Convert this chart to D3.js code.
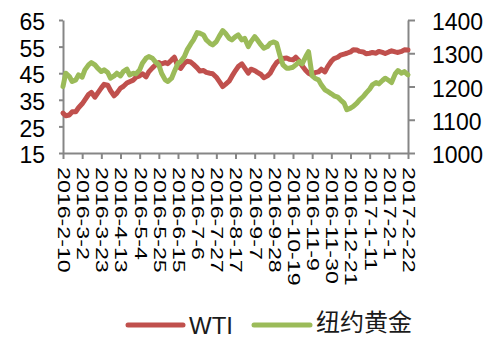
<!DOCTYPE html>
<html>
<head>
<meta charset="utf-8">
<script src="https://cdn.jsdelivr.net/npm/d3@7"></script>
<style>
  html, body { margin: 0; padding: 0; background: #fff; }
  svg { display: block; }
  text { font-family: Arial, "Liberation Sans", sans-serif; }
</style>
</head>
<body>
<svg id="chart" width="498" height="338"></svg>
<script>
// Closes sampled twice a week (day 0 and day 3 of each week), 2016-02-10 through 2017-02-22
const startDate = "2016-02-10";
const endDate = "2017-02-22";

// WTI crude, USD/bbl (left axis)
const wti = [
  30.0, 29.0, 29.3, 30.5, 30.5, 32.0, 33.5, 35.0, 37.0, 37.8,
  36.0, 37.5, 39.5, 40.8, 40.5, 38.5, 36.5, 37.5, 39.4, 40.0,
  41.3, 41.8, 42.4, 43.5, 44.0, 44.8, 43.6, 45.5, 47.0, 48.0,
  49.0, 48.5, 49.0, 48.6, 50.0, 51.0, 47.5, 46.8, 48.8, 49.5,
  49.2, 48.3, 47.0, 45.8, 46.0, 45.3, 45.0, 44.8, 43.5, 42.0,
  40.0, 40.8, 42.0, 43.8, 46.0, 47.5, 48.5, 47.0, 45.0, 46.5,
  46.0, 45.3, 44.5, 43.3, 44.0, 45.0, 47.5, 49.0, 50.0, 50.5,
  50.7, 50.2, 50.0, 51.0, 49.5, 47.8, 46.0, 45.0, 44.3, 45.2,
  45.5, 46.5, 45.5, 47.5, 49.5, 50.5, 51.0, 51.8, 52.2, 52.5,
  53.0, 53.8, 53.7, 53.2, 53.0, 52.3, 52.5, 52.8, 52.5, 53.2,
  52.8, 52.4, 53.0, 53.4, 53.0, 52.8, 53.2, 53.8, 53.7
];

// COMEX gold, USD/oz (right axis)
const gold = [
  1200, 1240, 1230, 1215, 1220, 1235, 1228, 1250, 1265, 1272,
  1265, 1255, 1245, 1250, 1242, 1225, 1232, 1240, 1232, 1245,
  1252, 1235, 1240, 1238, 1250, 1270, 1285, 1290, 1285, 1275,
  1265, 1240, 1220, 1215, 1225, 1245, 1270, 1275, 1290, 1310,
  1328, 1340, 1362, 1360, 1355, 1340, 1330, 1325, 1335, 1350,
  1368, 1360, 1345, 1340, 1350, 1355, 1340, 1345, 1320, 1335,
  1350, 1340, 1325, 1315, 1320, 1330, 1334, 1330, 1290, 1265,
  1255, 1255, 1258, 1265, 1275, 1268, 1290, 1305, 1232, 1225,
  1220, 1205, 1190, 1185, 1178, 1172, 1168, 1160, 1150, 1130,
  1135, 1140, 1150, 1160, 1170, 1180, 1192, 1205, 1212, 1208,
  1218, 1225, 1218, 1212, 1238, 1248, 1240, 1245, 1235
];

const leftTicks = [15, 25, 35, 45, 55, 65];
const rightTicks = [1000, 1100, 1200, 1300, 1400];
const dateLabels = [
  "2016-2-10", "2016-3-2", "2016-3-23", "2016-4-13", "2016-5-4",
  "2016-5-25", "2016-6-15", "2016-7-6", "2016-7-27", "2016-8-17",
  "2016-9-7", "2016-9-28", "2016-10-19", "2016-11-9", "2016-11-30",
  "2016-12-21", "2017-1-11", "2017-2-1", "2017-2-22"
];
const seriesNames = ["WTI", "纽约黄金"];
const colors = ["#C0504D", "#9BBB59"];

const parse = d3.timeParse("%Y-%m-%d");
const parseLabel = s => { const [y, m, d] = s.split("-").map(Number); return new Date(y, m - 1, d); };
const t0 = parse(startDate), t1 = parse(endDate);
// sample dates: start of each week and three days later, plus the final day
const sampleDates = d3.timeDay.range(t0, t1, 7)
  .flatMap(d => [d, d3.timeDay.offset(d, 3)])
  .concat([t1]);

const svg = d3.select("#chart");
const axisColor = "#868686";

const x = d3.scaleTime().domain([t0, t1]).range([63, 408]);
const yL = d3.scaleLinear().domain([15, 65]).range([153, 20]);
const yR = d3.scaleLinear().domain([1000, 1400]).range([153, 20]);

function styleAxis(g) {
  g.selectAll("path.domain").attr("stroke", axisColor).attr("stroke-width", 2);
  g.selectAll(".tick line").attr("stroke", axisColor).attr("stroke-width", 2);
  g.selectAll("text").attr("fill", "#000").attr("font-size", 23);
}

// left axis
const gL = svg.append("g").attr("transform", "translate(63,0)")
  .call(d3.axisLeft(yL).tickValues(leftTicks).tickSize(4).tickSizeOuter(0).tickPadding(14));
styleAxis(gL);
gL.selectAll("text").attr("dy", "0.42em");

// right axis
const gR = svg.append("g").attr("transform", "translate(408,0)")
  .call(d3.axisRight(yR).tickValues(rightTicks).tickSize(7).tickSizeOuter(0)
    .tickPadding(17).tickFormat(d3.format("d")));
styleAxis(gR);
gR.selectAll("text").attr("dy", "0.42em");

// bottom date axis with rotated, stretched labels
const tickDates = dateLabels.map(parseLabel);
const gB = svg.append("g").attr("transform", "translate(0,153)")
  .call(d3.axisBottom(x).tickValues(tickDates).tickSize(6).tickSizeOuter(0)
    .tickFormat((d, i) => dateLabels[i]));
styleAxis(gB);
gB.selectAll("text")
  .attr("font-size", 16)
  .attr("y", null).attr("dy", null)
  .attr("text-anchor", "start")
  .attr("dominant-baseline", "central")
  .attr("transform", "translate(0,14) rotate(90) scale(1.45,1)");

// series lines
const series = [wti.map((v, i) => [sampleDates[i], v]), gold.map((v, i) => [sampleDates[i], v])];
const scales = [yL, yR];
series.forEach((s, k) => {
  const line = d3.line().x(d => x(d[0])).y(d => scales[k](d[1]));
  svg.append("path")
    .datum(s)
    .attr("d", line)
    .attr("fill", "none")
    .attr("stroke", colors[k])
    .attr("stroke-width", 5)
    .attr("stroke-linejoin", "round")
    .attr("stroke-linecap", "round");
});

// legend
const legend = svg.append("g");
const legendItems = [
  { x1: 128, x2: 183, tx: 189, base: 333.5, font: null },
  { x1: 254, x2: 310, tx: 316, base: 331, font: "'Noto Sans CJK SC', sans-serif" }
];
legendItems.forEach((it, k) => {
  legend.append("line")
    .attr("x1", it.x1).attr("x2", it.x2).attr("y1", 325).attr("y2", 325)
    .attr("stroke", colors[k]).attr("stroke-width", 5).attr("stroke-linecap", "round");
  legend.append("text")
    .attr("x", it.tx).attr("y", it.base)
    .attr("font-size", 24).attr("fill", "#1a1a1a")
    .style("font-family", it.font)
    .text(seriesNames[k]);
});
</script>
</body>
</html>
